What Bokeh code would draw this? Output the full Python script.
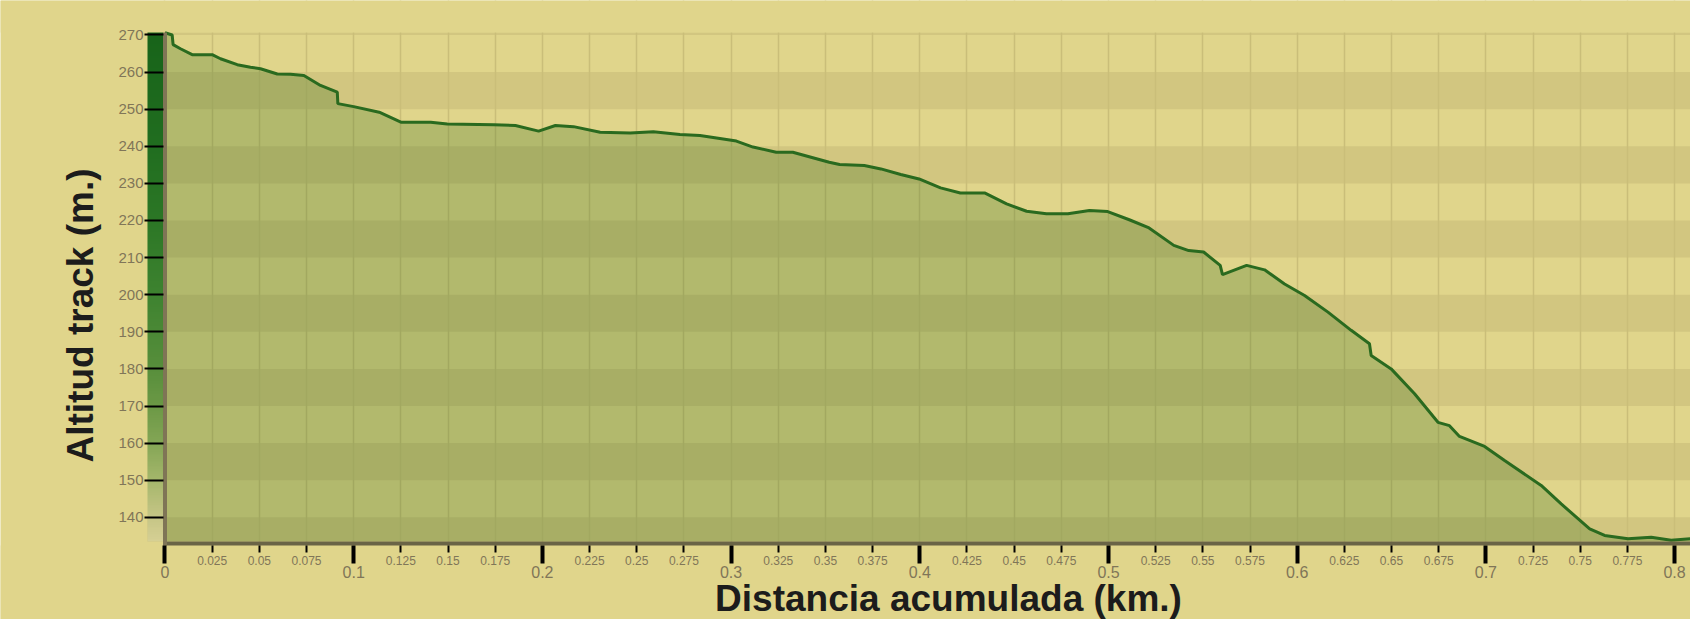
import numpy as np
from bokeh.plotting import figure
from bokeh.models import (LinearAxis, FixedTicker, NumeralTickFormatter, Grid,
                          Label, Range1d)
from bokeh.embed import file_html
from bokeh.resources import INLINE

# ---------------- data ----------------
distance_km = [0.0, 0.0038, 0.0043, 0.0082, 0.0144, 0.025, 0.0294, 0.0383, 0.0453,
               0.0506, 0.0595, 0.0665, 0.0736, 0.0824, 0.0913, 0.0916, 0.1, 0.1135,
               0.125, 0.1408, 0.1496, 0.1743, 0.1857, 0.198, 0.2069, 0.2165, 0.2306,
               0.2465, 0.2588, 0.2729, 0.2835, 0.3028, 0.3116, 0.3239, 0.3327, 0.352,
               0.3575, 0.3706, 0.3794, 0.3899, 0.3996, 0.411, 0.4215, 0.4346, 0.446,
               0.4566, 0.4671, 0.4785, 0.4899, 0.4996, 0.511, 0.5215, 0.5346, 0.5425,
               0.5504, 0.5592, 0.5604, 0.5732, 0.5827, 0.5933, 0.6039, 0.6163, 0.6286,
               0.6383, 0.6392, 0.6498, 0.6622, 0.6746, 0.6807, 0.686, 0.6993, 0.7099,
               0.7293, 0.7399, 0.755, 0.7629, 0.7753, 0.7876, 0.7982, 0.8084]
altitude_m = [270.6, 270.0, 267.4, 266.3, 264.7, 264.7, 263.6, 262.0, 261.3,
              260.9, 259.5, 259.4, 259.1, 256.4, 254.6, 251.5, 250.7, 249.2,
              246.5, 246.5, 246.0, 245.8, 245.6, 244.1, 245.6, 245.3, 243.8,
              243.6, 243.9, 243.2, 242.9, 241.4, 239.8, 238.4, 238.4, 235.7,
              235.1, 234.8, 233.9, 232.4, 231.2, 228.8, 227.4, 227.4, 224.5,
              222.5, 221.8, 221.8, 222.7, 222.4, 220.2, 218.0, 213.3, 211.9,
              211.5, 207.9, 205.4, 207.9, 206.7, 202.9, 199.8, 195.3, 190.4,
              186.8, 183.6, 180.0, 173.3, 165.6, 164.7, 161.8, 159.1, 155.3,
              148.6, 143.6, 136.9, 135.1, 134.2, 134.6, 133.8, 134.2]

major_ticks = [0.0, 0.1, 0.2, 0.3, 0.4, 0.5, 0.6, 0.7, 0.8]
minor_ticks = [0.025, 0.05, 0.075, 0.125, 0.15, 0.175, 0.225, 0.25, 0.275,
               0.325, 0.35, 0.375, 0.425, 0.45, 0.475, 0.525, 0.55, 0.575,
               0.625, 0.65, 0.675, 0.725, 0.75, 0.775]
y_ticks = [140, 150, 160, 170, 180, 190, 200, 210, 220, 230, 240, 250, 260, 270]

x_title = "Distancia acumulada (km.)"
y_title = "Altitud track (m.)"

# ---------------- styling ----------------
BG = "#e0d58b"
BAND_DARK = "#d2c680"
GRID = "#cabe79"
FILL = "#38701e"
LINE = "#2a6a1f"
LABEL = "#807658"
FONT = "Liberation Sans"

# view extents (whole canvas is the frame; axes are placed at fixed locations)
X_START, X_END = -0.087175, 0.808426
Y_START, Y_END = 112.453, 279.299
PLOT_TOP = 270.67
FLOOR = 133.5
AXIS_BOTTOM = 132.4
BAR_LEFT = -0.00927
AXIS_X = -0.00106

p = figure(width=1690, height=619, output_backend="svg", toolbar_location=None,
           x_range=Range1d(X_START, X_END), y_range=Range1d(Y_START, Y_END),
           x_axis_location=None, y_axis_location=None,
           min_border=0, min_border_left=0, min_border_right=0,
           min_border_top=0, min_border_bottom=0,
           background_fill_color=BG, border_fill_color=BG, outline_line_color=None)

# drop default grids
p.center = [r for r in p.center if not isinstance(r, Grid)]

# alternating horizontal bands
band_bottom = [FLOOR] + y_ticks[1::2]
band_top = [y_ticks[0]] + y_ticks[2::2] + [PLOT_TOP]
p.quad(left=BAR_LEFT, right=X_END, bottom=band_bottom, top=band_top,
       fill_color=BAND_DARK, line_color=None, level="image")

# vertical grid lines
p.add_layout(Grid(dimension=0, ticker=FixedTicker(ticks=major_ticks + minor_ticks),
                  grid_line_color=GRID, grid_line_width=1.5))
# keep grid lines inside the plotting area
p.quad(left=X_START, right=X_END, bottom=[Y_START, PLOT_TOP], top=[AXIS_BOTTOM, Y_END],
       fill_color=BG, line_color=None)

# gradient bar on the left
stops_alt = [FLOOR, 140, 150, 160, 170, 180, 200, 220, 240, PLOT_TOP]
stops_r = [214, 198, 165, 132, 108, 88, 62, 44, 33, 24]
stops_g = [208, 198, 183, 166, 153, 143, 131, 119, 110, 100]
stops_b = [148, 134, 108, 86, 70, 60, 48, 38, 32, 26]
rows = np.linspace(FLOOR, PLOT_TOP, 300)
img = np.empty((300, 1), dtype=np.uint32)
view = img.view(dtype=np.uint8).reshape((300, 1, 4))
view[:, 0, 0] = np.interp(rows, stops_alt, stops_r).astype(np.uint8)
view[:, 0, 1] = np.interp(rows, stops_alt, stops_g).astype(np.uint8)
view[:, 0, 2] = np.interp(rows, stops_alt, stops_b).astype(np.uint8)
view[:, 0, 3] = 255
p.image_rgba(image=[img], x=BAR_LEFT, y=FLOOR, dw=AXIS_X - BAR_LEFT, dh=PLOT_TOP - FLOOR)

# profile area + line
p.varea(x=distance_km, y1=FLOOR, y2=altitude_m, fill_color=FILL, fill_alpha=0.27)
p.line(distance_km, altitude_m, line_color=LINE, line_width=3)

# axis lines
p.quad(left=AXIS_X, right=X_END, bottom=AXIS_BOTTOM, top=FLOOR,
       fill_color="#6a6446", line_color=None)
p.segment(x0=0, y0=AXIS_BOTTOM, x1=0, y1=PLOT_TOP, line_color="#7f7556", line_width=4)

# y axis
ya = LinearAxis(fixed_location=BAR_LEFT, ticker=FixedTicker(ticks=y_ticks),
                axis_line_color=None, major_tick_in=16, major_tick_out=3,
                major_tick_line_width=2, major_tick_line_color="black",
                minor_tick_line_color=None,
                major_label_text_font=FONT, major_label_text_font_size="15px",
                major_label_text_color=LABEL, major_label_standoff=1)
p.add_layout(ya, "left")

# x axes: minor labels (small, higher) and major labels (larger, lower)
ax_minor = LinearAxis(fixed_location=AXIS_BOTTOM, ticker=FixedTicker(ticks=minor_ticks),
                      formatter=NumeralTickFormatter(format="0.[000]"),
                      axis_line_color=None, major_tick_in=0, major_tick_out=7,
                      major_tick_line_width=2, major_tick_line_color="black",
                      minor_tick_line_color=None,
                      major_label_text_font=FONT, major_label_text_font_size="12px",
                      major_label_text_color=LABEL, major_label_standoff=4)
ax_major = LinearAxis(fixed_location=AXIS_BOTTOM, ticker=FixedTicker(ticks=major_ticks),
                      formatter=NumeralTickFormatter(format="0.[000]"),
                      axis_line_color=None, major_tick_in=0, major_tick_out=18,
                      major_tick_line_width=4, major_tick_line_color="black",
                      minor_tick_line_color=None,
                      major_label_text_font=FONT, major_label_text_font_size="16px",
                      major_label_text_color=LABEL, major_label_standoff=3)
p.add_layout(ax_minor, "below")
p.add_layout(ax_major, "below")

# titles
p.add_layout(Label(x=80, y=304, x_units="screen", y_units="screen", text=y_title,
                   angle=np.pi / 2, text_align="center", text_baseline="alphabetic",
                   text_font=FONT, text_font_size="37px", text_font_style="bold",
                   text_color="#1c1c1c"))
p.add_layout(Label(x=948, y=21, x_units="screen", y_units="screen", text=x_title,
                   text_align="center", text_baseline="alphabetic",
                   text_font=FONT, text_font_size="37px", text_font_style="bold",
                   text_color="#1c1c1c"))

open("out.html", "w").write(file_html(p, INLINE))
